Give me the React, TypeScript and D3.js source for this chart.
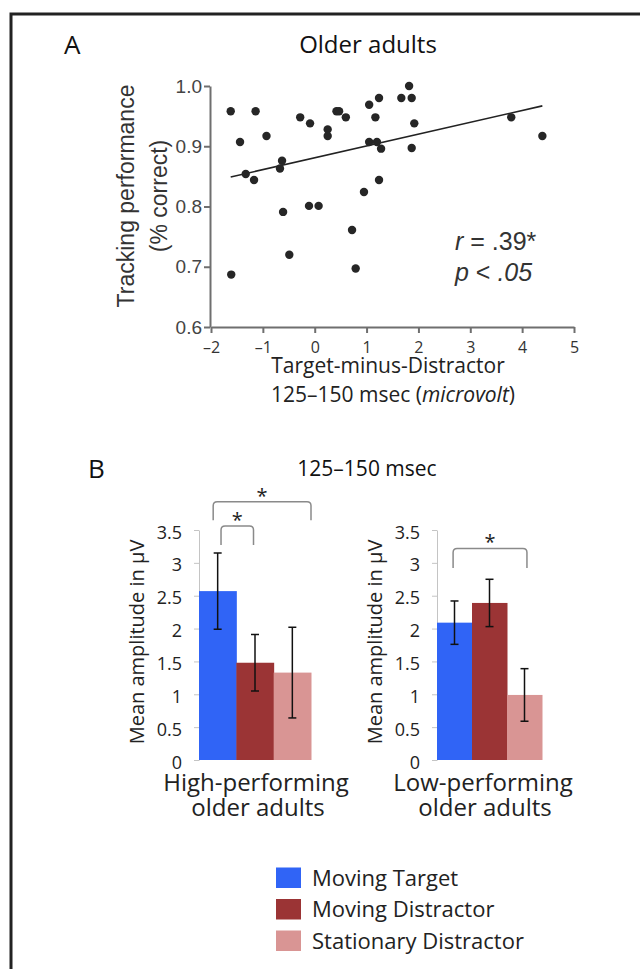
import React, { useRef, useLayoutEffect } from 'react'
import * as d3 from 'd3'

// panel A: tracking performance vs target-minus-distractor amplitude
const scatterX = [
  -1.62, -1.44, -1.33, -1.14, -1.17, -0.93, -1.61, -0.67, -0.63, -0.61, -0.49, -0.28, -0.09,
  -0.11, 0.075, 0.25, 0.25, 0.42, 0.47, 0.6, 0.72, 0.79, 0.95, 1.05, 1.05, 1.17, 1.24, 1.2,
  1.28, 1.24, 1.67, 1.82, 1.87, 1.92, 1.87, 3.79, 4.39,
]
const scatterY = [
  0.958, 0.907, 0.854, 0.958, 0.844, 0.917, 0.687, 0.863, 0.876, 0.791, 0.72, 0.948, 0.938,
  0.801, 0.801, 0.928, 0.917, 0.958, 0.958, 0.948, 0.761, 0.697, 0.824, 0.969, 0.907, 0.948,
  0.98, 0.907, 0.896, 0.844, 0.98, 1.0, 0.98, 0.938, 0.897, 0.948, 0.917,
]
const fitX = [-1.62, 4.39]
const fitY = [0.849, 0.967]
const xTicks = [-2, -1, 0, 1, 2, 3, 4, 5]
const yTicks = [0.6, 0.7, 0.8, 0.9, 1.0]

// panel B: mean amplitude per condition
const conditions = ['Moving Target', 'Moving Distractor', 'Stationary Distractor']
const colors = ['#3064f6', '#9b3435', '#d99594']
const groupLabels = [
  ['High-performing', 'older adults'],
  ['Low-performing', 'older adults'],
]
const highMeans = [2.57, 1.48, 1.33]
const highErrors = [0.58, 0.43, 0.69]
const lowMeans = [2.09, 2.39, 0.99]
const lowErrors = [0.33, 0.36, 0.4]
const barTicks = [0, 0.5, 1, 1.5, 2, 2.5, 3, 3.5]
// [from bar, to bar, top value, drop value]
const highBrackets = [
  [0.09, 0.96, 3.56, 3.27],
  [-0.12, 2.5, 3.93, 3.65],
]
const lowBrackets = [[-0.04, 2.07, 3.22, 2.92]]

const SANS = "'Open Sans', sans-serif"
const ARIAL = "'Liberation Sans', Arial, sans-serif"

const W = 640
const H = 969

function Scatter() {
  const axRef = useRef(null)
  const x = d3.scaleLinear().domain([-2, 5]).range([211, 574])
  const y = d3.scaleLinear().domain([0.6, 1.0]).range([327, 86])

  useLayoutEffect(() => {
    const g = d3.select(axRef.current)
    g.selectAll('*').remove()
    const xa = g
      .append('g')
      .attr('transform', `translate(0,${y(0.6)})`)
      .call(
        d3
          .axisBottom(x)
          .tickValues(xTicks)
          .tickSize(6)
          .tickSizeOuter(0)
          .tickPadding(9)
          .tickFormat(d => (d < 0 ? '\u2013' + Math.abs(d) : String(d)))
      )
    xa.selectAll('text').attr('font-family', SANS).attr('font-size', 16).attr('fill', '#333')
    const ya = g
      .append('g')
      .attr('transform', `translate(${x(-2) - 1},0)`)
      .call(
        d3
          .axisLeft(y)
          .tickValues(yTicks)
          .tickSize(6)
          .tickSizeOuter(0)
          .tickPadding(2)
          .tickFormat(d3.format('.1f'))
      )
    ya.selectAll('text').attr('font-family', ARIAL).attr('font-size', 19).attr('fill', '#444')
    g.selectAll('.domain, .tick line').attr('stroke', '#6f6f6f').attr('stroke-width', 2)
  }, [])

  const line = d3
    .line()
    .x(d => x(d[0]))
    .y(d => y(d[1]))

  return (
    <g>
      <g ref={axRef} />
      <path d={line(fitX.map((v, i) => [v, fitY[i]]))} stroke="#222" strokeWidth={1.6} fill="none" />
      {scatterX.map((v, i) => (
        <circle key={i} cx={x(v)} cy={y(scatterY[i])} r={4.2} fill="#262626" />
      ))}
      <g fontFamily={ARIAL} fill="#333" fontSize={23} textAnchor="middle">
        <text transform="translate(134,196) rotate(-90)">Tracking performance</text>
        <text transform="translate(167,196) rotate(-90)">(% correct)</text>
      </g>
      <g fontFamily={ARIAL} fill="#333" fontSize={25}>
        <text x={455} y={250}>
          <tspan fontStyle="italic">r</tspan> = .39*
        </text>
        <text x={455} y={281}>
          <tspan fontStyle="italic">p</tspan> &lt; <tspan fontStyle="italic">.05</tspan>
        </text>
      </g>
      <g fontFamily={SANS} fill="#222" fontSize={21} textAnchor="middle">
        <text x={388} y={373}>Target-minus-Distractor</text>
        <text x={393} y={402}>
          125–150 msec (<tspan fontStyle="italic">microvolt</tspan>)
        </text>
      </g>
    </g>
  )
}

function BarGroup({ range, means, errors, brackets, labels, labelX }) {
  const axRef = useRef(null)
  const x = d3.scaleBand().domain(conditions).range(range).paddingInner(0)
  const y = d3.scaleLinear().domain([0, 3.5]).range([760, 530])
  const bw = x.bandwidth()
  const pos = i => range[0] + bw * (i + 0.5)

  useLayoutEffect(() => {
    const g = d3.select(axRef.current)
    g.selectAll('*').remove()
    const ya = g
      .append('g')
      .attr('transform', `translate(${range[0]},0)`)
      .call(
        d3
          .axisLeft(y)
          .tickValues(barTicks)
          .tickSize(5)
          .tickSizeOuter(0)
          .tickPadding(12)
          .tickFormat(d => String(d))
      )
    ya.selectAll('.domain, .tick line').attr('stroke', '#c4c4c4').attr('stroke-width', 1)
    ya.selectAll('text')
      .attr('font-family', SANS)
      .attr('font-size', 18)
      .attr('fill', '#222')
      .attr('dy', '0.45em')
  }, [])

  return (
    <g>
      <g ref={axRef} />
      {conditions.map((c, i) => (
        <rect key={c} x={x(c)} y={y(means[i])} width={bw + 0.5} height={y(0) - y(means[i])} fill={colors[i]} />
      ))}
      {conditions.map((c, i) => {
        const cx = x(c) + bw / 2
        const top = y(means[i] + errors[i])
        const bot = y(means[i] - errors[i])
        return (
          <g key={c} stroke="#111" strokeWidth={1.5}>
            <line x1={cx} x2={cx} y1={top} y2={bot} />
            <line x1={cx - 4} x2={cx + 4} y1={top} y2={top} />
            <line x1={cx - 4} x2={cx + 4} y1={bot} y2={bot} />
          </g>
        )
      })}
      {brackets.map((b, i) => {
        const x1 = pos(b[0])
        const x2 = pos(b[1])
        const yt = y(b[2])
        const yd = y(b[3])
        const r = 4
        const d = `M${x1},${yd}L${x1},${yt + r}Q${x1},${yt} ${x1 + r},${yt}L${x2 - r},${yt}Q${x2},${yt} ${x2},${yt + r}L${x2},${yd}`
        return (
          <g key={i}>
            <path d={d} fill="none" stroke="#8a8a8a" strokeWidth={1.5} />
            <text x={(x1 + x2) / 2} y={yt + 1} textAnchor="middle" fontFamily={SANS} fontSize={20} fill="#222">
              *
            </text>
          </g>
        )
      })}
      <text
        transform={`translate(${range[0] - 55},642) rotate(-90)`}
        textAnchor="middle"
        fontFamily={SANS}
        fontSize={20}
        fill="#222"
      >
        Mean amplitude in μV
      </text>
      <g fontFamily={SANS} fontSize={24} fill="#222" textAnchor="middle">
        <text x={labelX} y={791}>{labels[0]}</text>
        <text x={labelX + 2} y={816}>{labels[1]}</text>
      </g>
    </g>
  )
}

export default function App() {
  return (
    <svg width={W} height={H} style={{ position: 'absolute', left: 0, top: 0, background: '#fff' }}>
      <path d={`M11,${H}L11,14L${W},14`} fill="none" stroke="#222" strokeWidth={3} />
      <g fontFamily={SANS} fill="#111">
        <text x={64} y={54} fontSize={26}>A</text>
        <text x={368} y={53} fontSize={24} textAnchor="middle">Older adults</text>
        <text x={88} y={478} fontSize={26}>B</text>
        <text x={367} y={476} fontSize={21} textAnchor="middle">125–150 msec</text>
      </g>
      <Scatter />
      <BarGroup
        range={[199, 311]}
        means={highMeans}
        errors={highErrors}
        brackets={highBrackets}
        labels={groupLabels[0]}
        labelX={256}
      />
      <BarGroup
        range={[437, 542]}
        means={lowMeans}
        errors={lowErrors}
        brackets={lowBrackets}
        labels={groupLabels[1]}
        labelX={483}
      />
      <g fontFamily={SANS} fontSize={22} fill="#222">
        {conditions.map((c, i) => (
          <g key={c} transform={`translate(276,${867.5 + i * 31.5})`}>
            <rect width={25} height={20.5} fill={colors[i]} />
            <text x={36} y={18}>{c}</text>
          </g>
        ))}
      </g>
    </svg>
  )
}
